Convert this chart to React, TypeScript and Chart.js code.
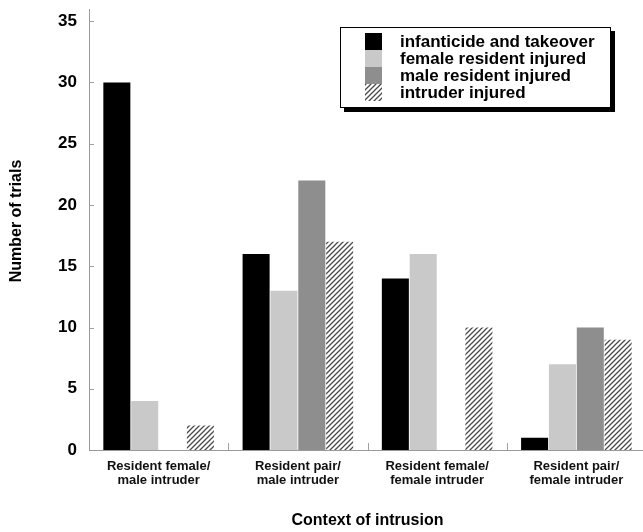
import React, { useEffect, useRef } from "react";
import { Chart, registerables } from "chart.js";

Chart.register(...registerables);

// ---- data ----
const categories: string[][] = [
  ["Resident female/", "male intruder"],
  ["Resident pair/", "male intruder"],
  ["Resident female/", "female intruder"],
  ["Resident pair/", "female intruder"],
];
const seriesLabels = [
  "infanticide and takeover",
  "female resident injured",
  "male resident injured",
  "intruder injured",
];
const infanticideTakeover = [30, 16, 14, 1];
const femaleResidentInjured = [4, 13, 16, 7];
const maleResidentInjured = [0, 22, 0, 10];
const intruderInjured = [2, 17, 10, 9];
const yTickValues = [0, 5, 10, 15, 20, 25, 30, 35];
const yMax = 36;
const yTitle = "Number of trials";
const xTitle = "Context of intrusion";

const FONT = "'Liberation Sans', Arial, Helvetica, sans-serif";

// diagonal "////" hatch fill
function makeHatch(): CanvasPattern | string {
  const c = document.createElement("canvas");
  c.width = 5;
  c.height = 5;
  const g = c.getContext("2d");
  if (!g) return "#888";
  g.fillStyle = "#ffffff";
  g.fillRect(0, 0, 5, 5);
  g.strokeStyle = "#4a4a4a";
  g.lineWidth = 1.3;
  g.beginPath();
  g.moveTo(-1, 6);
  g.lineTo(6, -1);
  g.moveTo(-1, 1);
  g.lineTo(1, -1);
  g.moveTo(4, 6);
  g.lineTo(6, 4);
  g.stroke();
  return g.createPattern(c, "repeat") || "#888";
}

// small inward tick marks on both axes
const axisMarks = {
  id: "axisMarks",
  afterDatasetsDraw(chart: any) {
    const { ctx, chartArea } = chart;
    const x = chart.scales.x;
    const y = chart.scales.y;
    ctx.save();
    ctx.strokeStyle = "#a0a0a0";
    ctx.lineWidth = 1;
    ctx.beginPath();
    for (const v of yTickValues) {
      if (v === 0) continue;
      const py = Math.round(y.getPixelForValue(v)) + 0.5;
      ctx.moveTo(chartArea.left, py);
      ctx.lineTo(chartArea.left + 5, py);
    }
    for (let i = 1; i < categories.length; i++) {
      const px = Math.round((x.getPixelForValue(i - 1) + x.getPixelForValue(i)) / 2) + 0.5;
      ctx.moveTo(px, chartArea.bottom);
      ctx.lineTo(px, chartArea.bottom - 7);
    }
    ctx.stroke();
    ctx.restore();
  },
};

// rotated y-axis title
const yAxisTitle = {
  id: "yAxisTitle",
  afterDraw(chart: any) {
    const ctx = chart.ctx;
    ctx.save();
    ctx.translate(17, 221);
    ctx.rotate(-Math.PI / 2);
    ctx.font = `bold 16px ${FONT}`;
    ctx.fillStyle = "#000";
    ctx.textAlign = "center";
    ctx.textBaseline = "middle";
    ctx.fillText(yTitle, 0, 0);
    ctx.restore();
  },
};

// framed legend with drop shadow, inside the plot
const boxedLegend = {
  id: "boxedLegend",
  afterDraw(chart: any) {
    const ctx = chart.ctx;
    const left = 340;
    const top = 27;
    const w = 271;
    const h = 81;
    const shadow = 4;
    ctx.save();
    ctx.fillStyle = "#000";
    ctx.fillRect(left + shadow, top + shadow, w, h);
    ctx.fillStyle = "#fff";
    ctx.fillRect(left, top, w, h);
    ctx.strokeStyle = "#000";
    ctx.lineWidth = 1;
    ctx.strokeRect(left + 0.5, top + 0.5, w - 1, h - 1);
    ctx.font = `bold 17px ${FONT}`;
    ctx.textAlign = "left";
    ctx.textBaseline = "alphabetic";
    chart.data.datasets.forEach((ds: any, i: number) => {
      const sy = top + 6 + i * 17;
      ctx.fillStyle = ds.backgroundColor;
      ctx.fillRect(365, sy, 17, 17);
      ctx.fillStyle = "#000";
      ctx.fillText(ds.label, 400, sy + 14);
    });
    ctx.restore();
  },
};

export default function App() {
  const ref = useRef<HTMLCanvasElement>(null);

  useEffect(() => {
    const canvas = ref.current;
    if (!canvas) return;
    const hatch = makeHatch();
    const chart = new Chart(canvas, {
      type: "bar",
      data: {
        labels: categories,
        datasets: [
          { label: seriesLabels[0], data: infanticideTakeover, backgroundColor: "#000000" },
          { label: seriesLabels[1], data: femaleResidentInjured, backgroundColor: "#c9c9c9" },
          { label: seriesLabels[2], data: maleResidentInjured, backgroundColor: "#8e8e8e" },
          { label: seriesLabels[3], data: intruderInjured, backgroundColor: hatch as any },
        ],
      },
      options: {
        animation: false,
        responsive: false,
        devicePixelRatio: 1,
        layout: { padding: { top: 9, left: 0, right: 0, bottom: 0 } },
        datasets: {
          bar: { categoryPercentage: 0.8, barPercentage: 0.97, borderWidth: 0 },
        },
        plugins: {
          legend: { display: false },
          tooltip: { enabled: false },
        },
        scales: {
          x: {
            grid: { display: false, drawTicks: false },
            border: { display: true, color: "#9a9a9a", width: 1 },
            ticks: {
              color: "#111",
              font: { family: FONT, size: 13, weight: "bold", lineHeight: 1.1 },
              padding: 9,
              maxRotation: 0,
              autoSkip: false,
            },
            title: {
              display: true,
              text: xTitle,
              color: "#000",
              font: { family: FONT, size: 16, weight: "bold" },
              padding: { top: 0, bottom: 2 },
            },
            afterFit: (s: any) => {
              s.height = 82;
              s.paddingLeft = 0;
              s.paddingRight = 0;
            },
          },
          y: {
            min: 0,
            max: yMax,
            afterBuildTicks: (s: any) => {
              s.ticks = yTickValues.map((v) => ({ value: v }));
            },
            grid: { display: false, drawTicks: false },
            border: { display: true, color: "#9a9a9a", width: 1 },
            ticks: {
              color: "#000",
              font: { family: FONT, size: 17, weight: "bold", lineHeight: 1 },
              padding: 12,
            },
            afterFit: (s: any) => {
              s.width = 89;
              s.paddingTop = 0;
              s.paddingBottom = 0;
            },
          },
        },
      } as any,
      plugins: [axisMarks, boxedLegend, yAxisTitle],
    });
    return () => chart.destroy();
  }, []);

  return (
    <div
      style={{
        position: "fixed",
        left: 0,
        top: 0,
        width: 643,
        height: 532,
        overflow: "hidden",
        background: "#fff",
      }}
    >
      <canvas ref={ref} width={646} height={532} style={{ display: "block", width: 646, height: 532 }} />
    </div>
  );
}
